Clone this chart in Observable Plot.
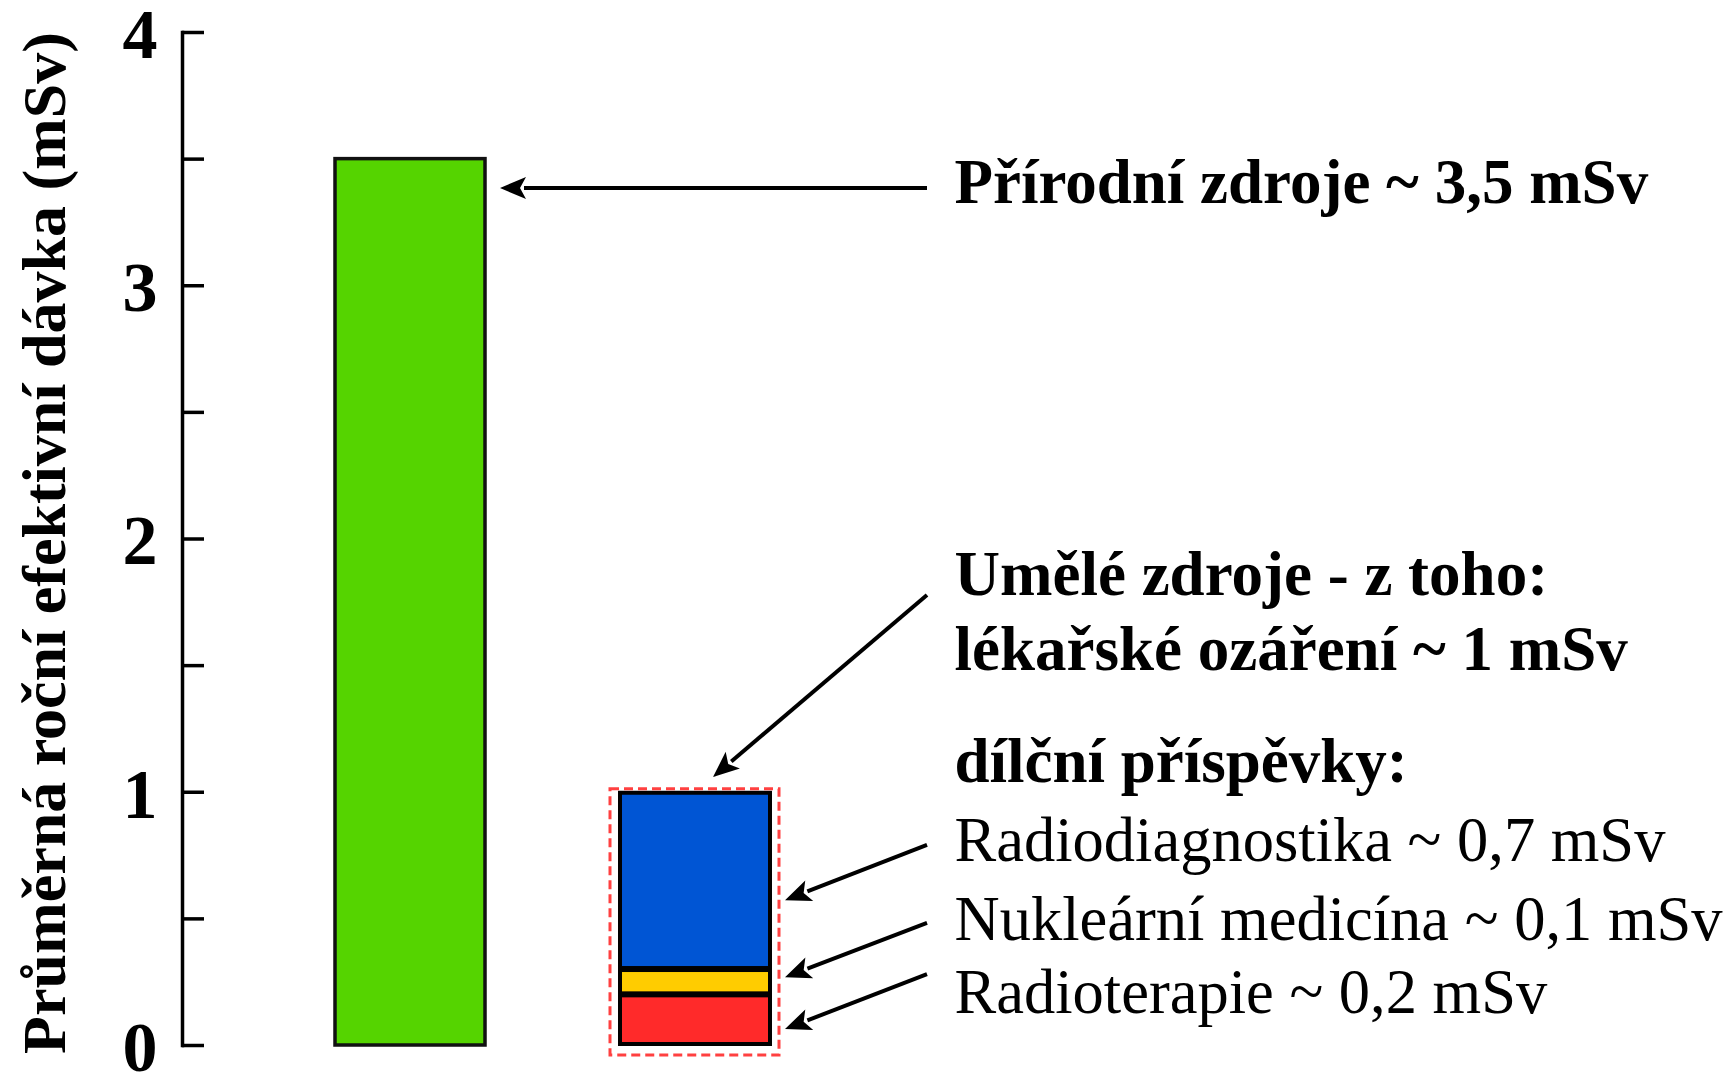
<!DOCTYPE html>
<html>
<head>
<meta charset="utf-8">
<script src="https://cdn.jsdelivr.net/npm/d3@7"></script>
<script src="https://cdn.jsdelivr.net/npm/@observablehq/plot@0.6"></script>
<style>
  html, body { margin: 0; padding: 0; background: #fff; }
  #chart svg { display: block; }
</style>
</head>
<body>
<div id="chart"></div>
<script>
// ---- data ----
const categories = ["Přírodní zdroje", "Umělé zdroje"];
const naturalDose = [3.5];
const medicalParts = ["Radioterapie", "Nukleární medicína", "Radiodiagnostika"];
const medicalValues = [0.2, 0.1, 0.7];
const partColors = ["#ff2a2a", "#ffcc00", "#0055d4"];
const yTicksMajor = [0, 1, 2, 3, 4];
const yTicksAll = [0, 0.5, 1, 1.5, 2, 2.5, 3, 3.5, 4];
const yTitle = "Průměrná roční efektivní dávka (mSv)";

const labelTexts = [
  "Přírodní zdroje ~ 3,5 mSv",
  "Umělé zdroje - z toho:",
  "lékařské ozáření ~ 1 mSv",
  "dílční příspěvky:",
  "Radiodiagnostika ~ 0,7 mSv",
  "Nukleární medicína ~ 0,1 mSv",
  "Radioterapie ~ 0,2 mSv"
];
const labelBold = [true, true, true, true, false, false, false];
// label vertical positions (in mSv units)
const labelY = [3.408, 1.86, 1.564, 1.121, 0.809, 0.494, 0.209];

// arrows: target bar, tail y and tip y (mSv units), tip style
const arrowTargets = ["Přírodní zdroje", "Umělé zdroje", "Umělé zdroje", "Umělé zdroje", "Umělé zdroje"];
const arrowFromY = [3.384, 1.777, 0.79, 0.482, 0.28];
const arrowToY = [3.384, 1.058, 0.572, 0.268, 0.063];
const arrowTip = ["side", "top", "side", "side", "side"];

// ---- derived tables ----
const naturalRows = [{cat: categories[0], v: naturalDose[0]}];
const medicalRows = medicalParts.map((p, i) => ({cat: categories[1], part: p, v: medicalValues[i], color: partColors[i]}));
const medicalTotal = [{cat: categories[1], v: d3.sum(medicalValues)}];
const labelRows = labelTexts.map((t, i) => ({t, y: labelY[i], bold: labelBold[i]}));
const arrowRows = arrowTargets.map((t, i) => ({target: t, y1: arrowFromY[i], y2: arrowToY[i], tip: arrowTip[i]}));

const W = 1734, H = 1076;
const mL = 182, mR = 0, mT = 32, mB = 31;
const serif = "'Liberation Serif', 'Times New Roman', serif";
const textX = 954;      // left edge of annotation texts
const tailGap = 27;     // gap between arrow tail and text

function arrowsMark(index, scales, values, dims) {
  const g = d3.create("svg:g");
  const bw = scales.x.bandwidth ? scales.x.bandwidth() : 150;
  for (const a of arrowRows) {
    const x0 = scales.x(a.target);
    const xs = textX - tailGap;
    const ys = scales.y(a.y1);
    const xe = a.tip === "top" ? x0 + bw / 2 + 18 : x0 + bw + 15;
    const ye = scales.y(a.y2);
    const dx = xe - xs, dy = ye - ys, len = Math.hypot(dx, dy);
    const ux = dx / len, uy = dy / len;
    const hl = 26, hw = 11;
    const bx = xe - ux * hl, by = ye - uy * hl;
    g.append("line")
      .attr("x1", xs).attr("y1", ys).attr("x2", bx + ux * 2).attr("y2", by + uy * 2)
      .attr("stroke", "#000").attr("stroke-width", 4);
    g.append("path")
      .attr("d", `M${xe},${ye}L${bx - uy * hw},${by + ux * hw}L${bx + ux * 6},${by + uy * 6}L${bx + uy * hw},${by - ux * hw}Z`)
      .attr("fill", "#000");
  }
  return g.node();
}

const chart = Plot.plot({
  width: W,
  height: H,
  marginLeft: mL,
  marginRight: mR,
  marginTop: mT,
  marginBottom: mB,
  style: {background: "#fff", fontFamily: serif},
  x: {type: "band", domain: categories, range: [335, 770], paddingInner: 0.4737, paddingOuter: 0, axis: null},
  y: {domain: [0, 4], axis: null},
  color: {type: "identity"},
  marks: [
    // axis line and inward ticks
    Plot.frame({anchor: "left", stroke: "#000", strokeWidth: 3.5}),
    Plot.ruleY(yTicksAll, {stroke: "#000", strokeWidth: 3.5, insetRight: W - mL - mR - 22}),
    Plot.axisY(yTicksMajor, {
      tickSize: 0, tickPadding: 25, tickFormat: d3.format("d"), fontSize: 70, fontWeight: "bold",
      fontFamily: serif, fill: "#000", dy: 3, label: null
    }),
    Plot.text([yTitle], {
      text: d => d, frameAnchor: "left", dx: -137, dy: 4, rotate: -90,
      fontSize: 62, fontWeight: "bold", fontFamily: serif, fill: "#000",
      textAnchor: "middle", lineAnchor: "middle"
    }),
    // bars
    Plot.barY(naturalRows, {x: "cat", y: "v", fill: "#55d400", stroke: "#111", strokeWidth: 3.5}),
    Plot.barY(medicalRows, {x: "cat", y: "v", fill: "color", stroke: "#000", strokeWidth: 4, insetTop: 1, insetBottom: 1}),
    Plot.barY(medicalTotal, {
      x: "cat", y: "v", fill: "none", stroke: "#ff4040", strokeWidth: 3, strokeDasharray: "9,5",
      insetLeft: -10, insetRight: -9, insetTop: -3, insetBottom: -10
    }),
    // annotations
    Plot.text(labelRows.filter(d => d.bold), {
      text: "t", y: "y", frameAnchor: "left", dx: textX - mL, textAnchor: "start", lineAnchor: "middle",
      fontSize: 63, fontWeight: "bold", fontFamily: serif, fill: "#000"
    }),
    Plot.text(labelRows.filter(d => !d.bold), {
      text: "t", y: "y", frameAnchor: "left", dx: textX - mL, textAnchor: "start", lineAnchor: "middle",
      fontSize: 62.5, fontWeight: "normal", fontFamily: serif, fill: "#000"
    }),
    arrowsMark
  ]
});

document.getElementById("chart").appendChild(chart);
</script>
</body>
</html>
